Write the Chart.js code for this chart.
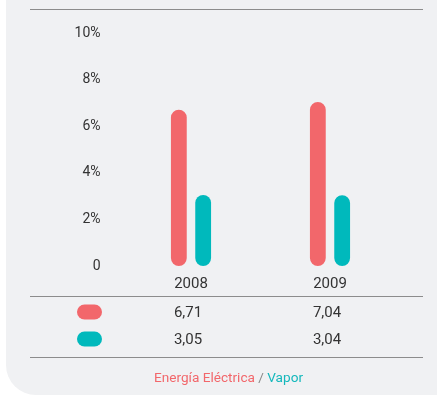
<!DOCTYPE html>
<html>
<head>
<meta charset="utf-8">
<script src="https://cdn.jsdelivr.net/npm/chart.js@4/dist/chart.umd.min.js"></script>
<style>
    html, body { margin: 0; padding: 0; background: #fff; }
    #wrap { position: relative; width: 437px; height: 396px; overflow: hidden; }
    #panel {
        position: absolute; left: 6px; top: -40px; width: 460px; height: 435px;
        background: #f0f1f3; border-radius: 30px;
    }
    #chart { position: absolute; left: 0; top: 0; }
    #footer {
        position: absolute; left: 10px; width: 437px; top: 369px; text-align: center;
        font: 13.6px Roboto, sans-serif; color: #888;
    }
    #footer .elec { color: #f2676b; }
    #footer .vap { color: #14b8bc; }
</style>
</head>
<body>
<div id="wrap">
    <div id="panel"></div>
    <canvas id="chart" width="437" height="396"></canvas>
    <div id="footer"><span class="elec">Energía Eléctrica</span> / <span class="vap">Vapor</span></div>
</div>
<script>
var years = ['2008', '2009'];
var electricidad = [6.71, 7.04];
var vapor = [3.05, 3.04];
var seriesNames = ['Energía Eléctrica', 'Vapor'];
var seriesColors = ['#f2676b', '#00b9bc'];

var LINE_COLOR = '#8c8c8c';
var TEXT_COLOR = '#333';

function fmt(v) {
    return v.toFixed(2).replace('.', ',');
}

// Rules at top and around the value table, plus the table itself
var tablePlugin = {
    id: 'tablePlugin',
    afterDraw: function(chart) {
        var ctx = chart.ctx;
        var x = chart.scales.x;
        ctx.save();
        ctx.strokeStyle = LINE_COLOR;
        ctx.lineWidth = 1.2;
        [9.5, 296.5, 357.5].forEach(function(y) {
            ctx.beginPath();
            ctx.moveTo(30, y);
            ctx.lineTo(423, y);
            ctx.stroke();
        });

        var rows = [electricidad, vapor];
        var rowY = [312, 339];
        ctx.font = '15px Roboto, sans-serif';
        ctx.textAlign = 'center';
        ctx.textBaseline = 'middle';
        rows.forEach(function(vals, r) {
            // legend pill
            ctx.fillStyle = seriesColors[r];
            ctx.beginPath();
            ctx.roundRect(77, rowY[r] - 7.5, 25, 15, 7.5);
            ctx.fill();
            ctx.fillStyle = TEXT_COLOR;
            vals.forEach(function(v, i) {
                ctx.fillText(fmt(v), x.getPixelForValue(i) - 3, rowY[r] + 1);
            });
        });
        ctx.restore();
    }
};

var datasets = [electricidad, vapor].map(function(vals, i) {
    return {
        label: seriesNames[i],
        data: vals,
        backgroundColor: seriesColors[i],
        borderRadius: 8,
        borderSkipped: false,
        categoryPercentage: 0.35,
        barPercentage: 0.65
    };
});

new Chart(document.getElementById('chart'), {
    type: 'bar',
    data: { labels: years, datasets: datasets },
    options: {
        responsive: false,
        animation: false,
        layout: { padding: { left: 71.5, right: 37.5, top: 33, bottom: 94 } },
        plugins: {
            legend: { display: false },
            tooltip: { enabled: false }
        },
        scales: {
            x: {
                grid: { display: false, drawTicks: false },
                border: { display: false },
                ticks: { color: TEXT_COLOR, font: { family: 'Roboto', size: 15 }, padding: 9 }
            },
            y: {
                min: 0,
                max: 10,
                afterFit: function(s) { s.width = 50; },
                grid: { display: false, drawTicks: false },
                border: { display: false },
                ticks: {
                    stepSize: 2,
                    padding: 21,
                    color: TEXT_COLOR,
                    font: { family: 'Roboto', size: 14 },
                    callback: function(v) { return v === 0 ? '0' : v + '%'; }
                }
            }
        }
    },
    plugins: [tablePlugin]
});
</script>
</body>
</html>
